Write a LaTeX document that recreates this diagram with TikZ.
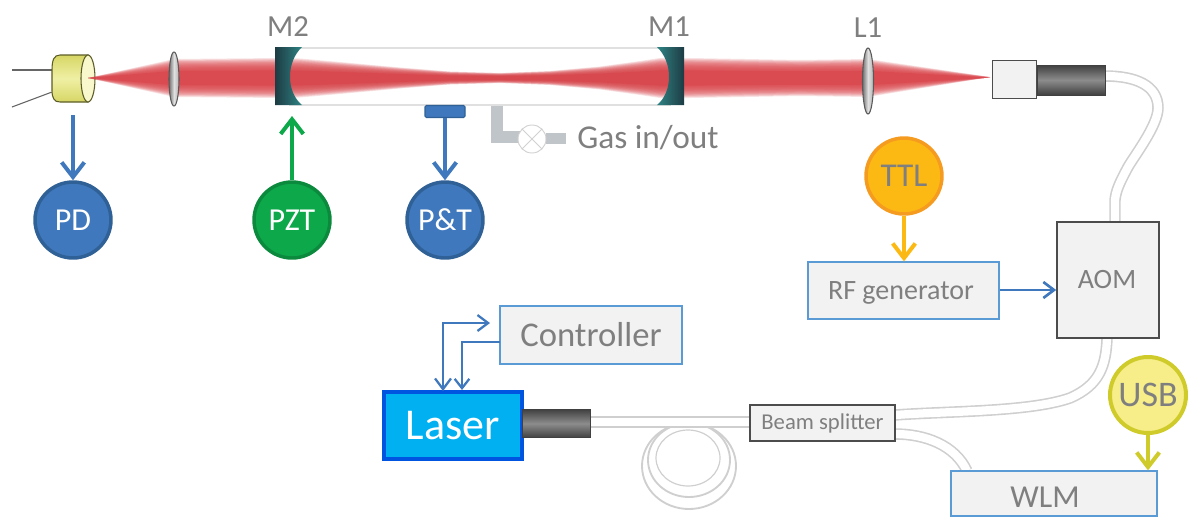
\documentclass[tikz,border=0pt]{standalone}
\usepackage{fontspec}
\setmainfont{Carlito}
\usetikzlibrary{arrows.meta}
\definecolor{txtgray}{HTML}{7F7F7F}
\definecolor{panel}{HTML}{F2F2F2}
\definecolor{edgeblue}{HTML}{5B9BD5}
\definecolor{sigblue}{HTML}{3F78BC}
\definecolor{sigdark}{HTML}{2F6096}
\definecolor{siggreen}{HTML}{0DA84A}
\definecolor{greendark}{HTML}{0B8A3E}
\definecolor{ttlfill}{HTML}{FDB913}
\definecolor{ttledge}{HTML}{F49B20}
\definecolor{usbfill}{HTML}{F7EE8A}
\definecolor{usbedge}{HTML}{CFCB2B}
\definecolor{beamred}{HTML}{D8444A}
\definecolor{gasgray}{HTML}{BFC5C8}
\definecolor{fibergray}{HTML}{CFCFCF}
\definecolor{mirdark}{HTML}{1D3B44}
\definecolor{mirteal}{HTML}{2F8484}
\definecolor{detedge}{HTML}{5C5C28}
\definecolor{detband}{HTML}{D6D665}
\definecolor{detmid}{HTML}{F0F0A5}
\definecolor{detface}{HTML}{F8F8CC}
\definecolor{laserfill}{HTML}{00B0F0}
\definecolor{laseredge}{HTML}{0055E0}
\tikzset{
  x=0.75pt,y=-0.75pt,
  lbl/.style={text=txtgray,font=\fontsize{23}{23}\selectfont,inner sep=0pt},
  disc/.style={circle,minimum size=57pt,inner sep=0pt,line width=2.6pt,font=\fontsize{24}{24}\selectfont},
  panelbox/.style={rectangle,fill=panel,draw=edgeblue,line width=1.2pt,text=txtgray,inner sep=0pt},
  greybox/.style={rectangle,fill=panel,draw=black!70,line width=1.2pt,text=txtgray,inner sep=0pt},
  sigarrow/.style={line width=3pt,-{Straight Barb[length=11pt,width=17pt,line width=3pt]}},
  thinarrow/.style={draw=sigblue,line width=1.7pt,-{Straight Barb[length=7pt,width=11pt,line width=1.7pt]}},
  fiberline/.style={draw=fibergray,line width=1.2pt,double=white,double distance=6.2pt},
  coilring/.style={draw=fibergray,line width=1.4pt},
  barrel/.style={rectangle,inner sep=0pt,draw=black!75,line width=.6pt,top color=black!75,bottom color=black!75,middle color=black!45},
  lens/.style={draw=black!65,line width=.8pt,left color=black!55,right color=black!30,middle color=black!12},
}
\newcommand{\beamlayer}[2]{%
  \fill[beamred,opacity=#2] (88,78)
    foreach \bx/\bh in {174/19,280/20,300/19.5,340/16,400/10.5,450/6.5,500/5,550/7,600/11.5,640/17,660/20,690/20,800/18,868/19,990/1}
      { -- (\bx,{78-#1*\bh}) }
    foreach \bx/\bh in {868/19,800/18,690/20,660/20,640/17,600/11.5,550/7,500/5,450/6.5,400/10.5,340/16,300/19.5,280/20,174/19}
      { -- (\bx,{78+#1*\bh}) }
    -- cycle;}
\begin{document}
\begin{tikzpicture}
\useasboundingbox (0,0) rectangle (1188,518);

% named endpoints
\coordinate (detout) at (73,115);
\coordinate (m2in) at (292,116);
\coordinate (wire1a) at (12,70);
\coordinate (wire1b) at (52,70);
\coordinate (wire2a) at (12,107);
\coordinate (wire2b) at (52,92);
\coordinate (lasA) at (443,391);
\coordinate (ctlA) at (490,323);
\coordinate (ctlB) at (500,342);
\coordinate (lasB) at (462,390);
\coordinate (fibA1) at (1105,76);
\coordinate (fibA2) at (1115,222);
\coordinate (fibB1) at (1107,338);
\coordinate (fibB2) at (895,415);
\coordinate (fibC1) at (590,422);
\coordinate (fibC2) at (750,422);
\coordinate (fibD1) at (895,434);
\coordinate (fibD2) at (967,471);

% fibres and coil (behind the boxes)
\draw[fiberline] (fibA1) .. controls (1135,76) and (1158,85) .. (1158,108)
  .. controls (1158,125) and (1135,155) .. (1128,167)
  .. controls (1120,182) and (1116,190) .. (1115,200) -- (fibA2);
\draw[fiberline] (fibB1) .. controls (1106,365) and (1100,385) .. (1070,398)
  .. controls (1030,412) and (950,411) .. (fibB2);
\draw[fiberline] (fibD1) .. controls (925,434) and (955,445) .. (fibD2);
\draw[coilring] (689,466) ellipse [x radius=47,y radius=43];
\draw[coilring] (689,460) ellipse [x radius=41,y radius=37];
\draw[coilring,line width=.9pt] (688,458) ellipse [x radius=32,y radius=28];
\draw[fiberline] (fibC1) -- (fibC2);

% detector
\draw[draw=black!60,line width=.8pt] (wire1a) -- (wire1b);
\draw[draw=black!60,line width=.8pt] (wire2a) -- (wire2b);
\path[draw=detedge,line width=.8pt,top color=detband,bottom color=detband,middle color=detmid]
  (88,55) -- (60,55) .. controls (54,55) and (52,60) .. (52,70) -- (52,90)
  .. controls (52,98) and (54,102) .. (60,102) -- (88,102) -- cycle;
\draw[draw=detedge,line width=.8pt,fill=detface] (88,78.5) ellipse [x radius=7,y radius=23.5];

% cavity tube
\draw[draw=black!12,line width=.9pt,fill=white] (290,48) rectangle (670,105);

% laser beam, soft edge built from stacked layers
\foreach \lay in {1,.96,.92,.88,.84,.8,.76,.72,.68,.64,.6,.56,.52,.48,.44,.4} {\beamlayer{\lay}{.14}}
\beamlayer{.38}{.55}

% lenses
\path[lens] (174,79) ellipse [x radius=5,y radius=27];
\path[lens] (868,81) ellipse [x radius=5.5,y radius=33];

% mirrors
\path[left color=mirdark,right color=mirteal] (275,47) -- (302,47)
  .. controls (286,62) and (286,92) .. (302,105) -- (275,105) -- cycle;
\path[left color=mirteal,right color=mirdark] (684,47) -- (657,47)
  .. controls (673,62) and (673,92) .. (657,105) -- (684,105) -- cycle;

% labels on the optical line
\node[lbl] (lm2) at (288,27) {M2};
\node[lbl] (lm1) at (669,27) {M1};
\node[lbl] (ll1) at (868,28) {L1};

% collimator
\node[greybox,line width=.9pt,minimum width=33.5pt,minimum height=29pt] (coll) at (1014.5,79.5) {};
\node[barrel,minimum width=51pt,minimum height=22.5pt] (colbar) at (1071,80) {};

% gas line
\fill[gasgray] (491,106) rectangle (503,143);
\fill[gasgray] (491,131) rectangle (520,143);
\fill[gasgray] (546,133) rectangle (566,144);
\node[circle,draw=black!18,line width=.7pt,fill=white,minimum size=21pt,inner sep=0pt] (valve) at (532,139) {};
\draw[draw=black!18,line width=.7pt] (valve.north west) -- (valve.south east);
\draw[draw=black!18,line width=.7pt] (valve.north east) -- (valve.south west);
\node[lbl,anchor=west,font=\fontsize{25}{25}\selectfont] (gas) at (577,138) {Gas in/out};

% pressure tap
\node[rectangle,rounded corners=1pt,inner sep=0pt,fill=sigblue,draw=sigdark,line width=.8pt,minimum width=30pt,minimum height=9pt] (tap) at (445,111.5) {};

% signal discs
\node[disc,fill=sigblue,draw=sigdark,text=white] (PD) at (73,220) {PD};
\node[disc,fill=siggreen,draw=greendark,text=white] (PZT) at (292,220) {PZT};
\node[disc,fill=sigblue,draw=sigdark,text=white] (PT) at (445,220) {P\&T};
\node[disc,fill=ttlfill,draw=ttledge,text=txtgray,font=\fontsize{25}{25}\selectfont] (TTL) at (904,176) {TTL};
\node[disc,fill=usbfill,draw=usbedge,line width=3pt,text=txtgray,font=\fontsize{27}{27}\selectfont] (USB) at (1148,395) {USB};

% boxes
\node[panelbox,minimum width=143pt,minimum height=42.5pt] (RF) at (903.5,290.5) {};
\node[text=txtgray,inner sep=0pt,font=\fontsize{21}{21}\selectfont] (RFt) at (901,293) {RF generator};
\node[greybox,minimum width=76.5pt,minimum height=87pt] (AOM) at (1108,280) {};
\node[text=txtgray,inner sep=0pt,font=\fontsize{21}{21}\selectfont] (AOMt) at (1107,280) {AOM};
\node[panelbox,minimum width=136.5pt,minimum height=43.5pt,font=\fontsize{26}{26}\selectfont] (CTL) at (591,335) {Controller};
\node[rectangle,inner sep=0pt,fill=laserfill,draw=laseredge,line width=3pt,minimum width=103pt,minimum height=50pt,text=white,font=\fontsize{33}{33}\selectfont] (LAS) at (453,425.5) {Laser};
\node[barrel,minimum width=51pt,minimum height=21.5pt] (lasbar) at (556,423.5) {};
\node[greybox,minimum width=109pt,minimum height=27pt,font=\fontsize{17}{17}\selectfont] (BS) at (822.5,423) {Beam splitter};
\node[panelbox,minimum width=154.5pt,minimum height=33.5pt] (WLM) at (1054,493.5) {};
\node[text=txtgray,inner sep=0pt,font=\fontsize{24}{24}\selectfont] (WLMt) at (1045,497) {WLM};

% connectors
\draw[sigarrow,draw=sigblue] (detout) -- (PD);
\draw[sigarrow,draw=siggreen] (PZT) -- (m2in);
\draw[sigarrow,draw=sigblue] (tap) -- (PT);
\draw[sigarrow,draw=ttlfill] (TTL) -- (RF.north -| TTL);
\draw[sigarrow,draw=usbedge] (USB) -- (WLM.north -| USB);
\draw[thinarrow,line width=2pt,-{Straight Barb[length=8pt,width=12pt,line width=2pt]}] (RF.east |- 0,290) -- (AOM.west |- 0,290);
\draw[thinarrow,{Straight Barb[length=8pt,width=12pt,line width=1.7pt]}-{Straight Barb[length=8pt,width=12pt,line width=1.7pt]}] (lasA) |- (ctlA);
\draw[thinarrow] (ctlB) -| (lasB);
\end{tikzpicture}
\end{document}
